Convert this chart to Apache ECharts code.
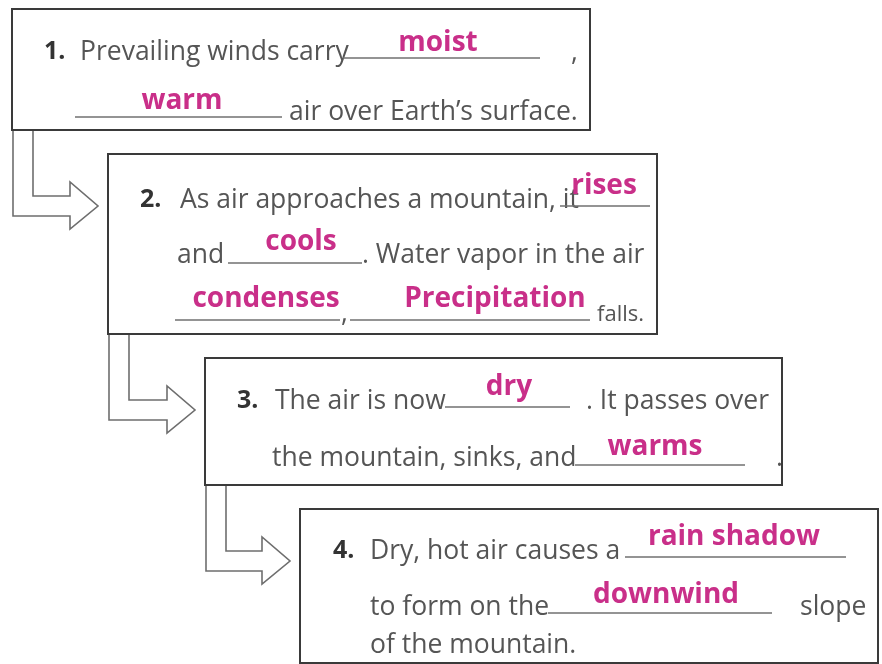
<!DOCTYPE html>
<html>
<head>
<meta charset="utf-8">
<script src="https://cdn.jsdelivr.net/npm/echarts@6/dist/echarts.min.js"></script>
<style>
  html, body { margin: 0; padding: 0; background: #fff; }
  #chart { width: 882px; height: 664px; }
</style>
</head>
<body>
<div id="chart"></div>
<script>
// content
const stepNumbers = ['1.', '2.', '3.', '4.']
const promptText = [
  ['Prevailing winds carry', ',', 'air over Earth\u2019s surface.'],
  ['As air approaches a mountain, it', 'and', '. Water vapor in the air', ',', 'falls.'],
  ['The air is now', '. It passes over', 'the mountain, sinks, and', '.'],
  ['Dry, hot air causes a', 'to form on the', 'slope', 'of the mountain.'],
]
const answers = [
  ['moist', 'warm'],
  ['rises', 'cools', 'condenses', 'Precipitation'],
  ['dry', 'warms'],
  ['rain shadow', 'downwind'],
]

// layout (page units, mapped through hidden axes)
const boxLayout = [[12, 9, 590, 130], [108, 154, 657, 334], [205, 358, 782, 485], [300, 509, 878, 663]]
const numberLayout = [[44, 52], [140, 200], [237, 401], [333, 551]]
const promptLayout = [
  [[80, 52], [571, 52], [289, 112]],
  [[180, 200], [177, 255], [362, 255], [341, 313], [597, 315, 22]],
  [[275, 401], [586, 401], [272, 458], [776, 458]],
  [[370, 551], [370, 607], [800, 607], [370, 645]],
]
const blankLayout = [
  [[343, 540, 58], [75, 282, 117]],
  [[560, 650, 206], [228, 362, 263], [175, 340, 320], [350, 590, 320]],
  [[445, 570, 407], [575, 745, 465]],
  [[625, 846, 557], [548, 772, 613]],
]
const answerLayout = [
  [[438, 43], [182, 101]],
  [[604, 186], [301, 242], [266, 299], [495, 299]],
  [[509, 387], [655, 447]],
  [[734, 537], [666, 595]],
]

const GREY = '#555555'
const PINK = '#c92f89'
const FONT = '"Open Sans", sans-serif'

function renderItem(params, api) {
  const i = params.dataIndex
  const pt = (x, y) => api.coord([x, y])
  const children = []
  const [bx0, by0, bx1, by1] = boxLayout[i]

  // arrow to the next box
  if (i < boxLayout.length - 1) {
    const next = boxLayout[i + 1]
    const outerX = bx0 + 1
    const innerX = outerX + 20
    const tipX = next[0] - 10
    const tipY = next[1] + 52
    const headX = tipX - 28
    children.push({
      type: 'polyline',
      shape: {
        points: [
          pt(innerX, by1), pt(innerX, tipY - 10), pt(headX, tipY - 10), pt(headX, tipY - 24),
          pt(tipX, tipY), pt(headX, tipY + 23), pt(headX, tipY + 10), pt(outerX, tipY + 10), pt(outerX, by1),
        ],
      },
      style: { stroke: '#6e6e6e', lineWidth: 1.6, fill: null },
    })
  }

  const a = pt(bx0, by0)
  const b = pt(bx1, by1)
  children.push({
    type: 'rect',
    shape: { x: a[0], y: a[1], width: b[0] - a[0], height: b[1] - a[1] },
    style: { fill: '#fff', stroke: '#3a3a3a', lineWidth: 2 },
  })

  const n = pt(...numberLayout[i])
  children.push({
    type: 'text', x: n[0], y: n[1],
    style: { text: stepNumbers[i], font: `bold 25px ${FONT}`, fill: '#333', align: 'left', verticalAlign: 'middle' },
  })

  promptText[i].forEach((t, k) => {
    const [x, y, size] = promptLayout[i][k]
    const p = pt(x, y)
    children.push({
      type: 'text', x: p[0], y: p[1],
      style: { text: t, font: `${size || 26.5}px ${FONT}`, fill: GREY, align: 'left', verticalAlign: 'middle' },
    })
  })

  blankLayout[i].forEach(([x0, x1, y]) => {
    const p = pt(x0, y)
    const q = pt(x1, y)
    children.push({
      type: 'line',
      shape: { x1: p[0], y1: p[1], x2: q[0], y2: q[1] },
      style: { stroke: '#707070', lineWidth: 1.3 },
    })
  })

  answers[i].forEach((t, k) => {
    const p = pt(...answerLayout[i][k])
    children.push({
      type: 'text', x: p[0], y: p[1],
      style: { text: t, font: `bold 28px ${FONT}`, fill: PINK, align: 'center', verticalAlign: 'middle' },
    })
  })

  return { type: 'group', children }
}

const chart = echarts.init(document.getElementById('chart'), null, { renderer: 'canvas' })
chart.setOption({
  animation: false,
  backgroundColor: '#fff',
  grid: { left: 0, right: 0, top: 0, bottom: 0 },
  xAxis: { type: 'value', min: 0, max: 882, show: false },
  yAxis: { type: 'value', min: 0, max: 664, inverse: true, show: false },
  series: [{
    type: 'custom',
    renderItem,
    clip: false,
    data: stepNumbers.map((_, i) => [i]),
  }],
})
</script>
</body>
</html>
